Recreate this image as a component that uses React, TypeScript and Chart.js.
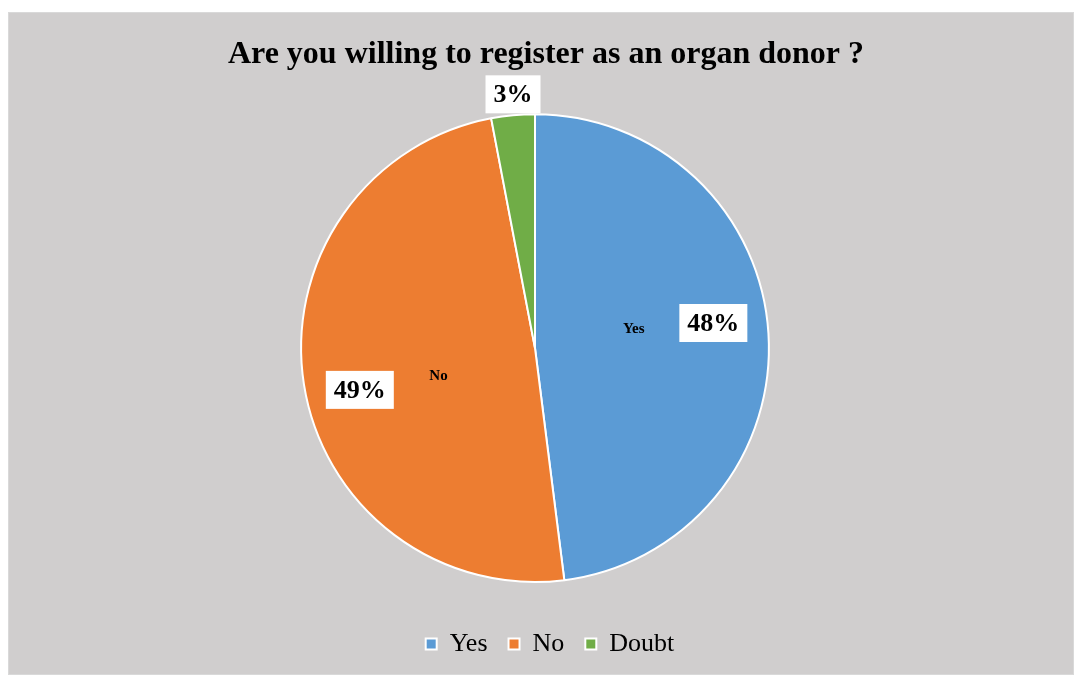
import React, { useEffect, useRef } from "react";
import { Chart, registerables } from "chart.js";

Chart.register(...registerables);

const titleText = "Are you willing to register as an organ donor ?";
const categories = ["Yes", "No", "Doubt"];
const values = [48, 49, 3];
const colors = ["#5B9BD5", "#ED7D31", "#70AD47"];

const SERIF = '"Liberation Serif", "Times New Roman", serif';

const shiftPlugin = {
  id: "shiftBoxes",
  afterLayout(chart: any) {
    if (chart.titleBlock) {
      chart.titleBlock.left += 11;
      chart.titleBlock.right += 11;
    }
    if (chart.legend) {
      chart.legend.left += 15;
      chart.legend.right += 15;
    }
  },
};

const labelPlugin = {
  id: "sliceLabels",
  afterDatasetsDraw(chart: any) {
    const ctx = chart.ctx;
    const meta = chart.getDatasetMeta(0);
    const total = values.reduce((a, b) => a + b, 0);
    ctx.save();
    meta.data.forEach((arc: any, i: number) => {
      const { x, y, startAngle, endAngle, outerRadius } = arc.getProps(
        ["x", "y", "startAngle", "endAngle", "outerRadius"],
        true
      );
      const mid = (startAngle + endAngle) / 2;
      const frac = values[i] / total;
      const pct = Math.round(frac * 100) + "%";
      ctx.font = `bold 26px ${SERIF}`;
      const tw = ctx.measureText(pct).width;
      const outside = frac < 0.05;
      const a = outside ? mid : mid - 0.077;
      const r = outside ? outerRadius + 21 : outerRadius * 0.77;
      const px = x + Math.cos(a) * r + (outside ? 2 : 0);
      const py = y + Math.sin(a) * r;
      ctx.fillStyle = "#FFFFFF";
      ctx.fillRect(px - tw / 2 - 8, py - 19, tw + 16, 38);
      ctx.fillStyle = "#000000";
      ctx.textAlign = "center";
      ctx.textBaseline = "middle";
      ctx.fillText(pct, px, py + 1);
      if (!outside) {
        const na = mid - 0.13;
        const nr = outerRadius * 0.43;
        const nx = x + Math.cos(na) * nr;
        const ny = y + Math.sin(na) * nr;
        ctx.font = `bold 15px ${SERIF}`;
        ctx.fillStyle = "#000000";
        ctx.fillText(categories[i], nx, ny);
      }
    });
    ctx.restore();
  },
};

export default function App() {
  const canvasRef = useRef<HTMLCanvasElement>(null);

  useEffect(() => {
    if (!canvasRef.current) return;
    const chart = new Chart(canvasRef.current, {
      type: "pie",
      data: {
        labels: categories,
        datasets: [
          {
            data: values,
            backgroundColor: colors,
            borderColor: "#FFFFFF",
            borderWidth: 2,
          },
        ],
      },
      options: {
        responsive: false,
        animation: false,
        events: [],
        layout: { padding: { left: 0, right: 12, top: 0, bottom: 7 } },
        plugins: {
          tooltip: { enabled: false },
          title: {
            display: true,
            text: titleText,
            color: "#000000",
            font: { family: SERIF, size: 32, weight: "bold", lineHeight: 1.2 },
            padding: { top: 23, bottom: 38.8 },
          },
          legend: {
            display: true,
            position: "bottom",
            title: {
              display: true,
              text: " ",
              font: { size: 10, lineHeight: 1.2 },
              padding: { top: 0, bottom: 15 },
            },
            labels: {
              color: "#000000",
              font: { family: SERIF, size: 26 },
              boxWidth: 11,
              boxHeight: 11,
              padding: 21,
            },
          },
        },
      },
      plugins: [shiftPlugin, labelPlugin],
    });
    return () => chart.destroy();
  }, []);

  return (
    <div
      style={{
        position: "absolute",
        left: 8,
        top: 12,
        width: 1066,
        height: 663,
        boxSizing: "border-box",
        border: "1px solid #D9D9D9",
        background: "#D0CECE",
      }}
    >
      <canvas ref={canvasRef} width={1064} height={661} style={{ display: "block" }} />
    </div>
  );
}
